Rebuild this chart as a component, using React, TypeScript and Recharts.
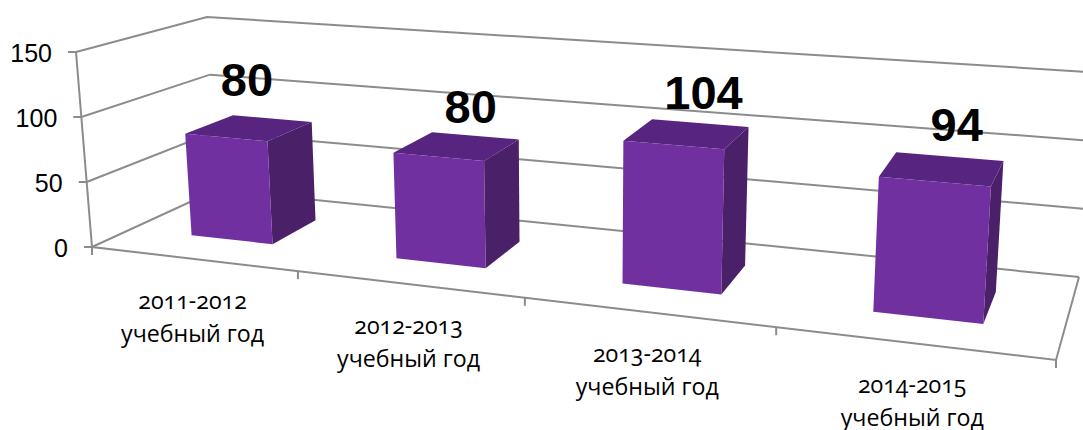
import React from "react";
import {
  BarChart,
  Bar,
  XAxis,
  YAxis,
  CartesianGrid,
  Customized,
} from "recharts";

const years = ["2011-2012", "2012-2013", "2013-2014", "2014-2015"];
const yearSuffix = "учебный год";
const pupils = [80, 80, 104, 94];
const yTicks = [0, 50, 100, 150];

const data = years.map((year, i) => ({ year, pupils: pupils[i] }));

// flat plot area that recharts lays out, warped into the 3D box afterwards
const WIDTH = 1083;
const HEIGHT = 430;
const PLOT_LEFT = 60;
const PLOT_TOP = 20;
const PLOT_W = 1003;
const PLOT_H = 350;

type Pt = [number, number];

// corners of the box on screen: floor front/back, ceiling front/back
const floorFrontL: Pt = [92, 247];
const floorFrontR: Pt = [1056, 360];
const floorBackL: Pt = [216, 190];
const floorBackR: Pt = [1079, 277];
const topFrontL: Pt = [76, 52];
const topFrontR: Pt = [1071, 129];
const topBackL: Pt = [207, 17];
const topBackR: Pt = [1093, 72.3];

const PERSPECTIVE = 0.815;
const BAR_FRONT = 0.325;
const BAR_BACK = 0.72;
const BAR_SHIFT = 0.003;

const mix = (a: Pt, b: Pt, t: number): Pt => [
  a[0] + (b[0] - a[0]) * t,
  a[1] + (b[1] - a[1]) * t,
];

// u along the categories, d into the depth, v up the value axis (all 0..1)
const project = (u: number, d: number, v: number): Pt => {
  const w = (u * PERSPECTIVE) / (1 - (1 - PERSPECTIVE) * u);
  const floor = mix(mix(floorFrontL, floorFrontR, w), mix(floorBackL, floorBackR, w), d);
  const top = mix(mix(topFrontL, topFrontR, w), mix(topBackL, topBackR, w), d);
  return mix(floor, top, v);
};

const toU = (x: number) => (x - PLOT_LEFT) / PLOT_W;
const toV = (y: number) => (PLOT_TOP + PLOT_H - y) / PLOT_H;
const pts = (list: Pt[]) => list.map((p) => `${p[0]},${p[1]}`).join(" ");

const GREY = "#8c8c8c";
const LINE_W = 2;
const UI_FONT = "'Liberation Sans', Arial, sans-serif";

const Box3D = (props: any) => {
  const { x, y, width, height } = props;
  const u0 = toU(x) + BAR_SHIFT;
  const u1 = toU(x + width) + BAR_SHIFT;
  const v1 = toV(y);
  const v0 = toV(y + height);
  const fl = (u: number, v: number) => project(u, BAR_FRONT, v);
  const bk = (u: number, v: number) => project(u, BAR_BACK, v);
  return (
    <g>
      <polygon points={pts([fl(u1, v0), bk(u1, v0), bk(u1, v1), fl(u1, v1)])} fill="#4a2068" />
      <polygon points={pts([fl(u0, v1), fl(u1, v1), bk(u1, v1), bk(u0, v1)])} fill="#57257f" />
      <polygon points={pts([fl(u0, v0), fl(u1, v0), fl(u1, v1), fl(u0, v1)])} fill="#7030a0" />
    </g>
  );
};

// Excel labels were dragged by hand, so each has its own nudge
const labelNudge: Pt[] = [
  [-2, -32],
  [14, -23],
  [17, -25],
  [15, -28],
];

const BarValueLabel = (props: any) => {
  const { x, y, width, value, index } = props;
  const [px, py] = project(toU(x + width / 2) + BAR_SHIFT, (BAR_FRONT + BAR_BACK) / 2, toV(y));
  return (
    <text
      x={px + labelNudge[index][0]}
      y={py + labelNudge[index][1]}
      textAnchor="middle"
      fontFamily={UI_FONT}
      fontWeight="bold"
      fontSize={47}
      fill="#000"
    >
      {value}
    </text>
  );
};

const GridLine = (props: any) => {
  const v = toV(props.y1);
  return (
    <polyline
      key={props.key}
      points={pts([project(0, 0, v), project(0, 1, v), project(1, 1, v)])}
      fill="none"
      stroke={GREY}
      strokeWidth={LINE_W}
    />
  );
};

const ValueTick = (props: any) => {
  const { y, payload } = props;
  const [px, py] = project(0, 0, toV(y));
  return (
    <g>
      <line x1={px - 8} y1={py} x2={px} y2={py} stroke={GREY} strokeWidth={LINE_W} />
      <text
        x={px - 24}
        y={py + 10}
        textAnchor="end"
        fontFamily={UI_FONT}
        fontSize={25}
        fill="#000"
      >
        {payload.value}
      </text>
    </g>
  );
};

const CategoryTick = (props: any) => {
  const { x, payload, index } = props;
  const u = toU(x);
  const half = 0.5 / years.length;
  const [cx, cy] = project(u, 0, 0);
  const [lx, ly] = project(u - half, 0, 0);
  const last = index === years.length - 1 ? project(u + half, 0, 0) : null;
  return (
    <g>
      <line x1={lx} y1={ly} x2={lx} y2={ly + 8} stroke={GREY} strokeWidth={LINE_W} />
      {last && (
        <line x1={last[0]} y1={last[1]} x2={last[0]} y2={last[1] + 8} stroke={GREY} strokeWidth={LINE_W} />
      )}
      <text
        textAnchor="middle"
        fontFamily="'Open Sans', sans-serif"
        fontSize={23.2}
        fill="#000"
        style={{ fontVariantNumeric: "oldstyle-nums" }}
      >
        <tspan x={cx} y={cy + 50}>{payload.value}</tspan>
        <tspan x={cx} y={cy + 83}>{yearSuffix}</tspan>
      </text>
    </g>
  );
};

const BoxFrame = () => (
  <g fill="none" stroke={GREY} strokeWidth={LINE_W}>
    <polyline points={pts([topFrontL, floorFrontL, floorFrontR, floorBackR])} />
  </g>
);

export default function App() {
  return (
    <div style={{ position: "absolute", left: 0, top: 0, width: WIDTH, height: HEIGHT, background: "#fff" }}>
      <BarChart
        width={WIDTH}
        height={HEIGHT}
        data={data}
        margin={{ top: PLOT_TOP, right: WIDTH - PLOT_LEFT - PLOT_W, bottom: 0, left: 0 }}
        barCategoryGap="29.6%"
      >
        <CartesianGrid vertical={false} horizontal={GridLine} syncWithTicks />
        <XAxis
          dataKey="year"
          height={HEIGHT - PLOT_TOP - PLOT_H}
          axisLine={false}
          tickLine={false}
          interval={0}
          tick={CategoryTick}
        />
        <YAxis
          width={PLOT_LEFT}
          domain={[0, 150]}
          ticks={yTicks}
          axisLine={false}
          tickLine={false}
          tick={ValueTick}
        />
        <Customized component={BoxFrame} />
        <Bar
          dataKey="pupils"
          isAnimationActive={false}
          shape={Box3D}
          label={BarValueLabel}
        />
      </BarChart>
    </div>
  );
}
